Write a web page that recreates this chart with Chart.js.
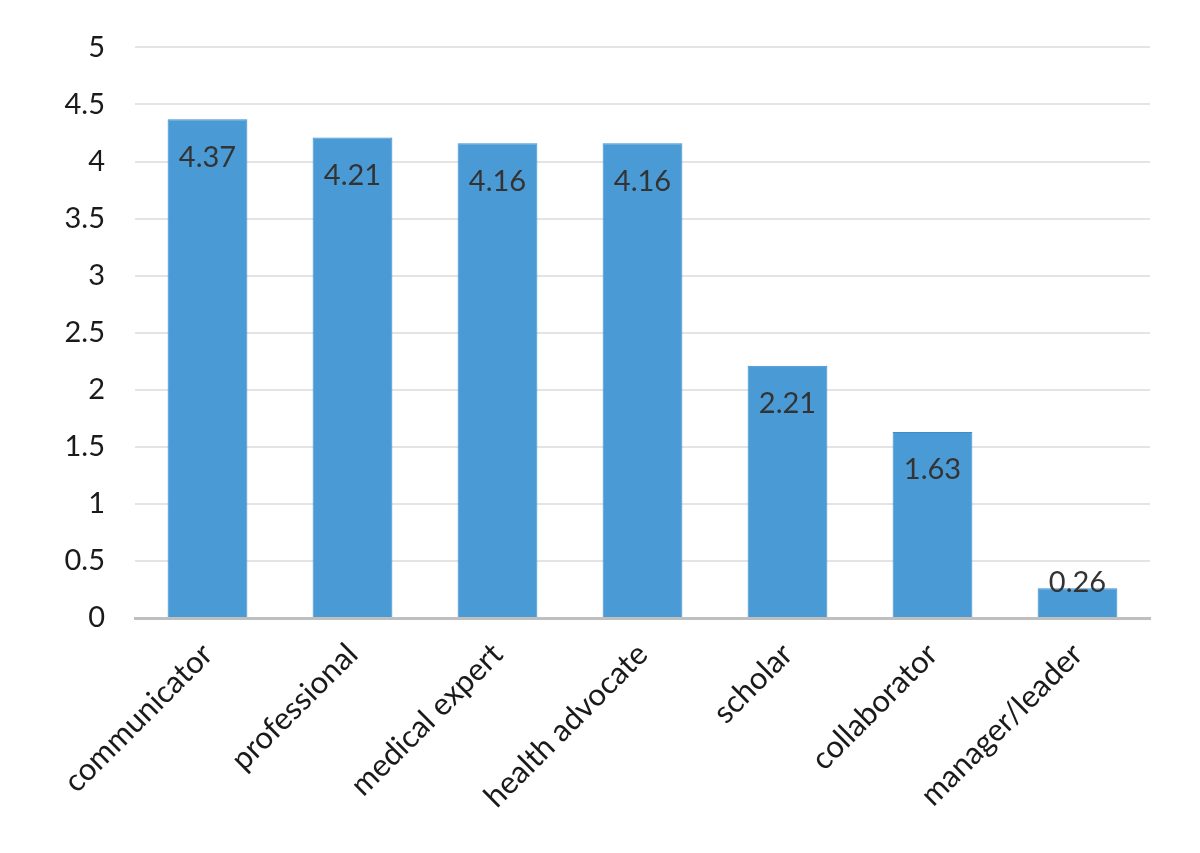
<!DOCTYPE html>
<html><head><meta charset="utf-8">
<script src="https://cdn.jsdelivr.net/npm/chart.js@4/dist/chart.umd.min.js"></script>
<style>html,body{margin:0;padding:0;background:#fff}#w{width:1200px;height:853px}</style>
</head><body><div id="w"><canvas id="c" width="1200" height="853"></canvas></div>
<script>
const categories = ["communicator","professional","medical expert","health advocate","scholar","collaborator","manager/leader"];
const values = [4.37, 4.21, 4.16, 4.16, 2.21, 1.63, 0.26];
const yTicks = [0, 0.5, 1, 1.5, 2, 2.5, 3, 3.5, 4, 4.5, 5];

const FONT = "Lato, 'Open Sans', sans-serif";
const labelPlugin = {
  id: 'vlabels',
  afterDatasetsDraw(chart) {
    const ctx = chart.ctx;
    const meta = chart.getDatasetMeta(0);
    const base = chart.scales.y.getPixelForValue(0);
    ctx.save();
    ctx.font = "29px " + FONT;
    ctx.fillStyle = "#333333";
    ctx.textAlign = "center";
    ctx.textBaseline = "middle";
    meta.data.forEach((bar, i) => {
      let y = Math.min(bar.y + 38, base - 35);
      ctx.fillText(String(values[i]), bar.x, y);
    });
    ctx.restore();
  }
};

new Chart(document.getElementById('c'), {
  type: 'bar',
  data: { labels: categories, datasets: [{ data: values, backgroundColor: '#4a9bd5', borderColor: '#3d8ccb', borderWidth: 1, barPercentage: 0.55, categoryPercentage: 1 }] },
  options: {
    responsive: false, animation: false,
    layout: { padding: { top: 46, right: 50, left: 0, bottom: 0 } },
    plugins: { legend: { display: false }, tooltip: { enabled: false } },
    scales: {
      y: {
        min: 0, max: 5,
        afterBuildTicks(s) { s.ticks = yTicks.map(v => ({ value: v })); },
        afterFit(s) { s.width = 135; },
        grid: { color: '#e4e4e4', lineWidth: 2, drawTicks: false },
        border: { display: false },
        ticks: { font: { size: 29, family: FONT }, color: '#1a1a1a', padding: 30, callback: v => String(v) }
      },
      x: {
        afterFit(s) { s.height = 235; },
        grid: { display: false },
        border: { color: '#bfbfbf', width: 3 },
        ticks: { font: { size: 31, family: FONT }, color: '#1a1a1a', maxRotation: 45, minRotation: 45, padding: 10 }
      }
    }
  },
  plugins: [labelPlugin]
});
</script></body></html>
